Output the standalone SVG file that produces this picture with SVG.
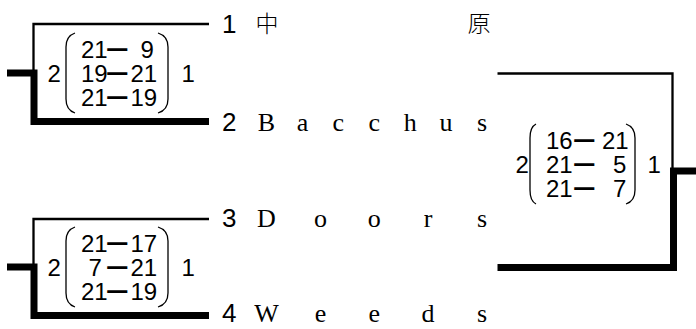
<svg xmlns="http://www.w3.org/2000/svg" width="696" height="329" viewBox="0 0 696 329">
<style>
.thin{stroke:#000;stroke-width:2.3;fill:none}
.thick{stroke:#000;stroke-width:7;fill:none;stroke-linejoin:miter}
.paren{stroke:#000;stroke-width:1.3;fill:none}
.num{font-family:"Liberation Sans",Arial,sans-serif;font-size:24px;fill:#000}
.dash{font-size:18.5px;stroke:#000;stroke-width:1.6}
.seed{font-family:"Liberation Sans",Arial,sans-serif;font-size:26px;fill:#000}
.name{font-family:"Liberation Serif","Noto Sans CJK JP",serif;font-size:26px;fill:#000}
.cjk{font-family:"Noto Sans CJK JP",sans-serif;font-size:23px;font-weight:300;fill:#000}
</style>
<rect width="696" height="329" fill="#fff"/>
<g id="connectors">
<path class="thin" d="M209 24 H33.5 V73"/>
<path class="thick" d="M7 73 H34 V121.5 H209"/>
<path class="thin" d="M209 219 H33.5 V267"/>
<path class="thick" d="M7 267 H34 V315.5 H209"/>
<path class="thin" d="M497.5 73.5 H672.5 V171"/>
<path class="thick" d="M497.5 267.5 H673.5 V171 H696"/>
</g>
<g id="team1">
<text class="seed" x="222" y="33">1</text>
<text class="cjk" x="267 479" y="32" text-anchor="middle">中原</text>
</g>
<g id="team2">
<text class="seed" x="222" y="131">2</text>
<text class="name" x="266.5 302.4 338.3 374.25 410.2 446.1 482" y="130.5" text-anchor="middle">Bacchus</text>
</g>
<g id="team3">
<text class="seed" x="222" y="227">3</text>
<text class="name" x="266.5 320.4 374.25 428.1 482" y="226.5" text-anchor="middle">Doors</text>
</g>
<g id="team4">
<text class="seed" x="222" y="322">4</text>
<text class="name" x="266.5 320.4 374.25 428.1 482" y="321.5" text-anchor="middle">Weeds</text>
</g>
<g id="score1" transform="translate(54,73)">
<text class="num" x="-6.4" y="8.6">2</text>
<path class="paren" d="M21 -40 Q12 -37 12 -26 V26 Q12 37 21 40"/>
<path class="paren" d="M104 -40 Q114 -37 114 -26 V26 Q114 37 104 40"/>
<text class="num" y="-15.4"><tspan x="27">21</tspan><tspan class="dash" x="54" dy="-3.5">—</tspan><tspan x="86.5" dy="3.5">9</tspan></text>
<text class="num" y="8.6"><tspan x="27">19</tspan><tspan class="dash" x="54" dy="-3.5">—</tspan><tspan x="76.5" dy="3.5">21</tspan></text>
<text class="num" y="32.6"><tspan x="27">21</tspan><tspan class="dash" x="54" dy="-3.5">—</tspan><tspan x="76.5" dy="3.5">19</tspan></text>
<text class="num" x="127.5" y="8.6">1</text>
</g>
<g id="score2" transform="translate(54,267)">
<text class="num" x="-6.4" y="8.6">2</text>
<path class="paren" d="M21 -40 Q12 -37 12 -26 V26 Q12 37 21 40"/>
<path class="paren" d="M104 -40 Q114 -37 114 -26 V26 Q114 37 104 40"/>
<text class="num" y="-15.4"><tspan x="27">21</tspan><tspan class="dash" x="54" dy="-3.5">—</tspan><tspan x="76.5" dy="3.5">17</tspan></text>
<text class="num" y="8.6"><tspan x="34.5">7</tspan><tspan class="dash" x="54" dy="-3.5">—</tspan><tspan x="76.5" dy="3.5">21</tspan></text>
<text class="num" y="32.6"><tspan x="27">21</tspan><tspan class="dash" x="54" dy="-3.5">—</tspan><tspan x="76.5" dy="3.5">19</tspan></text>
<text class="num" x="127.5" y="8.6">1</text>
</g>
<g id="score3" transform="translate(522,164)">
<text class="num" x="-6.4" y="8.6">2</text>
<path class="paren" d="M14 -40 Q8 -37 8 -26 V26 Q8 37 14 40"/>
<path class="paren" d="M104 -40 Q113 -37 113 -26 V26 Q113 37 104 40"/>
<text class="num" y="-15.4"><tspan x="24">16</tspan><tspan class="dash" x="53" dy="-3.5">—</tspan><tspan x="80" dy="3.5">21</tspan></text>
<text class="num" y="8.6"><tspan x="24">21</tspan><tspan class="dash" x="53" dy="-3.5">—</tspan><tspan x="91" dy="3.5">5</tspan></text>
<text class="num" y="32.6"><tspan x="24">21</tspan><tspan class="dash" x="53" dy="-3.5">—</tspan><tspan x="91" dy="3.5">7</tspan></text>
<text class="num" x="125.5" y="8.6">1</text>
</g>
</svg>
